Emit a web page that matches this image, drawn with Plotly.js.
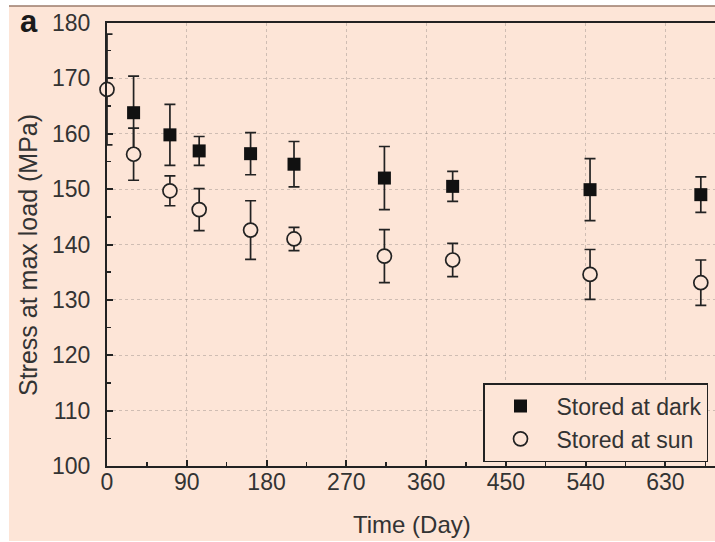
<!DOCTYPE html>
<html>
<head>
<meta charset="utf-8">
<script src="https://cdn.plot.ly/plotly-3.0.1.min.js"></script>
<style>
html,body{margin:0;padding:0;background:#ffffff;}
#chart{width:715px;height:542px;}
</style>
</head>
<body>
<div id="chart"></div>
<script>
// ---- data ----
const daysDark = [30, 71, 104, 162, 211, 313, 390, 545, 670];
const stressDark = [163.8, 159.8, 156.9, 156.4, 154.5, 152.0, 150.5, 149.9, 149.0];
const errDark = [6.6, 5.5, 2.6, 3.8, 4.1, 5.7, 2.7, 5.6, 3.2];

const daysSun = [0, 30, 71, 104, 162, 211, 313, 390, 545, 670];
const stressSun = [168.0, 156.3, 149.7, 146.3, 142.6, 141.0, 137.9, 137.2, 134.6, 133.1];
const errSun = [10.0, 4.7, 2.7, 3.8, 5.3, 2.1, 4.8, 3.0, 4.5, 4.1];

const xTicks = [0, 90, 180, 270, 360, 450, 540, 630];
const yTicks = [100, 110, 120, 130, 140, 150, 160, 170, 180];
const seriesNames = ["Stored at dark", "Stored at sun"];

// ---- styling ----
const BG = "#fde5d7";
const INK = "#222222";
const TXT = "#333333";
const FONT = "Liberation Sans, Arial, sans-serif";

const W = 715, H = 542;
const M = {l: 107, r: 0, t: 23, b: 76};
const PW = W - M.l - M.r, PH = H - M.t - M.b;
const px = v => (v - M.l) / PW;
const py = v => (H - M.b - v) / PH;

const traces = [
  {
    x: daysDark, y: stressDark, name: seriesNames[0],
    type: "scatter", mode: "markers", cliponaxis: false,
    marker: {symbol: "square", size: 13, color: "#111111", line: {width: 0}},
    error_y: {type: "data", array: errDark, visible: true, color: INK, thickness: 1.7, width: 5.5}
  },
  {
    x: daysSun, y: stressSun, name: seriesNames[1],
    type: "scatter", mode: "markers", cliponaxis: false,
    marker: {symbol: "circle", size: 14, color: BG, line: {width: 1.7, color: INK}},
    error_y: {type: "data", array: errSun, visible: true, color: INK, thickness: 1.7, width: 5.5}
  }
];

const layout = {
  width: W, height: H,
  margin: M,
  paper_bgcolor: "#ffffff",
  plot_bgcolor: "rgba(0,0,0,0)",
  font: {family: FONT, color: TXT, size: 23},
  showlegend: true,
  xaxis: {
    range: [0, 686], tickvals: xTicks, ticktext: xTicks.map(String),
    showline: true, linecolor: INK, linewidth: 2, mirror: true,
    ticks: "inside", ticklen: 6, tickwidth: 2, tickcolor: INK,
    ticklabelstandoff: -6,
    showgrid: true, gridcolor: "rgba(150,140,135,0.45)", griddash: "dot", gridwidth: 1,
    zeroline: false,
    minor: {dtick: 45, tick0: 0, ticks: "inside", ticklen: 4, tickwidth: 1.5, tickcolor: INK, showgrid: false},
    tickfont: {size: 23, color: TXT}
  },
  yaxis: {
    range: [100, 180], tickvals: yTicks, ticktext: yTicks.map(String),
    showline: true, linecolor: INK, linewidth: 2, mirror: false,
    ticks: "inside", ticklen: 6, tickwidth: 2, tickcolor: INK,
    ticklabelstandoff: 10,
    showgrid: true, gridcolor: "rgba(150,140,135,0.45)", griddash: "dot", gridwidth: 1,
    zeroline: false,
    minor: {dtick: 5, tick0: 100, ticks: "inside", ticklen: 4, tickwidth: 1.5, tickcolor: INK, showgrid: false},
    tickfont: {size: 23, color: TXT}
  },
  legend: {
    x: px(708), xanchor: "right", y: py(462), yanchor: "bottom",
    bgcolor: BG, bordercolor: INK, borderwidth: 1.5,
    font: {size: 23, color: TXT}, itemwidth: 62, tracegroupgap: 0
  },
  shapes: [
    {type: "rect", xref: "paper", yref: "paper", layer: "below",
     x0: px(9), x1: px(716), y0: py(541), y1: py(6),
     fillcolor: BG, line: {width: 0}},
    {type: "line", xref: "paper", yref: "paper", layer: "below",
     x0: px(9), x1: px(716), y0: py(6), y1: py(6),
     line: {color: "#9b7b6b", width: 1.5}}
  ],
  annotations: [
    {text: "<b>a</b>", xref: "paper", yref: "paper", x: px(28.5), y: py(21),
     xanchor: "center", yanchor: "middle", showarrow: false,
     font: {size: 31, color: "#1a1a1a", family: FONT}},
    {text: "Time (Day)", xref: "paper", yref: "paper", x: px(412), y: py(524),
     xanchor: "center", yanchor: "middle", showarrow: false,
     font: {size: 24, color: TXT, family: FONT}},
    {text: "Stress at max load (MPa)", xref: "paper", yref: "paper", x: px(28), y: py(255),
     xanchor: "center", yanchor: "middle", showarrow: false, textangle: -90,
     font: {size: 25, color: TXT, family: FONT}}
  ]
};

Plotly.newPlot("chart", traces, layout, {staticPlot: true, displayModeBar: false});
</script>
</body>
</html>
